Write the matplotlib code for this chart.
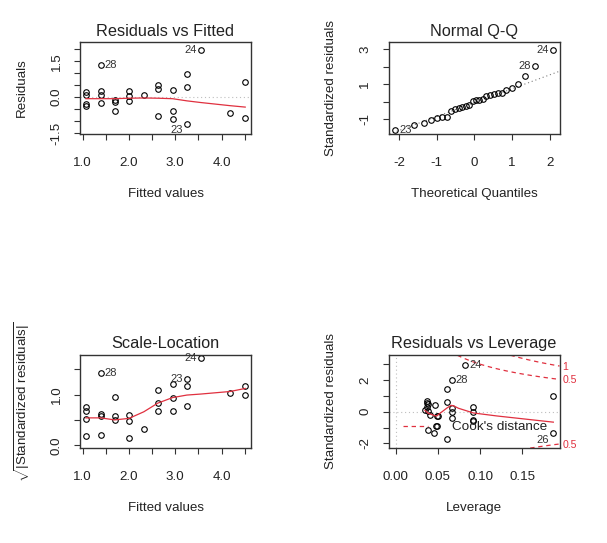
import numpy as np
import matplotlib
matplotlib.use('Agg')
import matplotlib.pyplot as plt

plt.rcParams['font.family'] = ['Liberation Sans', 'DejaVu Sans']
plt.rcParams['mathtext.fontset'] = 'custom'
plt.rcParams['mathtext.rm'] = 'Liberation Sans'
plt.rcParams['mathtext.it'] = 'Liberation Sans:italic'

# ---------------- data ----------------
# Panel 1: Residuals vs Fitted
fitted = [1.07, 1.07, 1.07, 1.07, 1.39, 1.39, 1.39, 1.39, 1.69, 1.69, 1.69,
          2.00, 2.00, 2.00, 2.32, 2.62, 2.62, 2.62, 2.94, 2.94, 2.94,
          3.25, 3.25, 3.25, 3.55, 4.18, 4.51, 4.51]
residuals = [0.22, 0.10, -0.27, -0.35, 1.36, 0.25, 0.11, -0.23, -0.13, -0.18, -0.57,
             0.28, 0.04, -0.14, 0.08, 0.53, 0.35, -0.77, 0.29, -0.57, -0.92,
             0.97, 0.43, -1.11, 1.96, -0.67, 0.65, -0.85]
smooth_x = [1.07, 1.39, 1.69, 2.00, 2.32, 2.62, 2.94, 3.25, 3.55, 4.18, 4.51]
smooth_resid = [-0.06, -0.06, -0.06, -0.04, -0.03, -0.04, -0.06, -0.15, -0.22, -0.35, -0.41]
resid_labels = {'28': (1.39, 1.36), '24': (3.55, 1.96), '23': (3.25, -1.11)}

# Panel 2: Normal Q-Q
theor_q = [-2.100, -1.611, -1.345, -1.150, -0.992, -0.854, -0.732, -0.619, -0.514, -0.414,
           -0.319, -0.225, -0.135, -0.045, 0.045, 0.135, 0.225, 0.319, 0.414, 0.514,
           0.619, 0.732, 0.854, 0.992, 1.150, 1.345, 1.611, 2.100]
std_resid_sorted = [-1.62, -1.31, -1.23, -1.05, -0.93, -0.86, -0.85, -0.51, -0.44, -0.36,
                    -0.30, -0.25, -0.18, 0.05, 0.07, 0.10, 0.15, 0.33, 0.36, 0.43,
                    0.47, 0.50, 0.64, 0.77, 1.01, 1.45, 2.04, 2.93]
qq_labels = {'24': (2.100, 2.93), '28': (1.611, 2.04), '23': (-2.100, -1.62)}

# Panel 3: Scale-Location
sqrt_abs_std = [0.76, 0.68, 0.52, 0.18, 1.42, 0.62, 0.57, 0.20, 0.95, 0.57, 0.49,
                0.60, 0.47, 0.14, 0.32, 1.09, 0.84, 0.68, 1.20, 0.94, 0.68,
                1.31, 1.17, 0.78, 1.72, 1.03, 1.17, 0.99]
smooth_scale = [0.54, 0.54, 0.50, 0.53, 0.66, 0.83, 0.94, 0.99, 1.01, 1.06, 1.12]
scale_labels = {'28': (1.39, 1.42), '24': (3.55, 1.72), '23': (3.25, 1.31)}

# Panel 4: Residuals vs Leverage
leverage = [0.0821, 0.0663, 0.0604, 0.0604, 0.0604, 0.0374, 0.0386, 0.0367, 0.0466, 0.0386,
            0.0406, 0.0486, 0.0500, 0.0663, 0.0663, 0.0663, 0.0474, 0.0490, 0.0379, 0.0457,
            0.0920, 0.0920, 0.0920, 0.0920, 0.1867, 0.1867, 0.0347, 0.0367]
std_resid = [2.95, 2.00, 1.41, 0.63, -1.74, 0.69, 0.49, 0.32, 0.42, 0.02,
             -0.21, -0.25, -0.30, 0.25, -0.05, -0.42, -0.90, -0.90, -1.16, -1.37,
             0.32, 0.00, -0.52, -0.56, 1.01, -1.37, 0.11, 0.55]
smooth_lev = [0.0347, 0.0386, 0.0458, 0.0486, 0.0525, 0.0604, 0.0655, 0.0683, 0.0742, 0.0920, 0.1200, 0.1867]
smooth_lev_y = [0.08, -0.10, -0.24, -0.27, -0.10, 0.22, 0.40, 0.38, 0.22, -0.08, -0.27, -0.66]
lev_labels = {'24': (0.0821, 2.95), '28': (0.0663, 2.00), '26': (0.1867, -1.37)}
cook_levels = [0.5, 1.0]
cook_level_text = ['0.5', '1']
n_coef = 2

# ---------------- style ----------------
RED = '#E0303F'
GRAY = '#BEBEBE'
INK = '#222222'
W, H = 607, 543
fig = plt.figure(figsize=(W / 100, H / 100), dpi=100)


def make_ax(l, r, t, b):
    ax = fig.add_axes([l / W, 1 - b / H, (r - l) / W, (b - t) / H])
    return ax


def style(ax, hpx, wpx, xticks, xlabs, yticks, ylabs, xlabel, ylabel, title):
    ax.set_xticks(xticks)
    ax.set_xticklabels(xlabs)
    ax.set_yticks(yticks)
    ax.set_yticklabels(ylabs, rotation=90, va='center')
    ax.tick_params(direction='out', length=4.1, width=0.8, labelsize=9.6,
                   color='#333333', labelcolor=INK)
    ax.tick_params(axis='x', pad=12.5)
    ax.tick_params(axis='y', pad=8.5)
    ax.set_xlabel(xlabel, fontsize=9.6, color=INK)
    ax.xaxis.label.set_va('center')
    ax.xaxis.set_label_coords(0.5, -60.0 / hpx)
    ax.set_ylabel(ylabel, fontsize=9.6, color=INK)
    ax.yaxis.label.set_va('center')
    ax.yaxis.set_label_coords(-58.0 / wpx, 0.5)
    ax.set_title(title, fontsize=11.7, pad=4.5, color=INK)
    for s in ax.spines.values():
        s.set_linewidth(1.0)
        s.set_color('#333333')


def pts(ax, x, y):
    ax.plot(x, y, linestyle='none', marker='o', markersize=4.0,
            markerfacecolor='none', markeredgecolor='black', markeredgewidth=0.8)


def lab(ax, txt, xy, side, dy=0):
    dx = 3.0 if side == 'r' else -3.0
    ax.annotate(txt, xy=xy, xytext=(dx, dy), textcoords='offset points',
                ha='left' if side == 'r' else 'right', va='center',
                fontsize=8.0, color='#333333', annotation_clip=False)


# ---- Panel 1 ----
ax1 = make_ax(80, 251, 42, 134)
ax1.axhline(0, color=GRAY, lw=0.8, ls=(0, (1, 2.5)))
pts(ax1, fitted, residuals)
ax1.plot(smooth_x, smooth_resid, color=RED, lw=0.9)
lab(ax1, '28', resid_labels['28'], 'r')
lab(ax1, '24', resid_labels['24'], 'l')
lab(ax1, '23', resid_labels['23'], 'l', dy=-4.5)
style(ax1, 92, 171, [1.0, 1.5, 2.0, 2.5, 3.0, 3.5, 4.0, 4.5],
      ['1.0', '', '2.0', '', '3.0', '', '4.0', ''],
      [-1.5, -1.0, -0.5, 0.0, 0.5, 1.0, 1.5, 2.0],
      ['-1.5', '', '', '0.0', '', '', '1.5', ''],
      'Fitted values', 'Residuals', 'Residuals vs Fitted')
ax1.set_xlim(0.942, 4.635)
ax1.set_ylim(-1.53, 2.30)

# ---- Panel 2 ----
ax2 = make_ax(388.5, 559.5, 42, 134)
q1, q3 = np.quantile(std_resid_sorted, [0.25, 0.75])
zq = 0.6745
slope = (q3 - q1) / (2 * zq)
icpt = q1 + slope * zq
ax2.axline((0.0, icpt), slope=slope, color='#7F7F7F', lw=0.8, ls=(0, (1, 2.5)))
pts(ax2, theor_q, std_resid_sorted)
lab(ax2, '24', qq_labels['24'], 'l')
lab(ax2, '28', qq_labels['28'], 'l')
lab(ax2, '23', qq_labels['23'], 'r')
style(ax2, 92, 171, [-2, -1, 0, 1, 2], ['-2', '-1', '0', '1', '2'],
      [-1, 0, 1, 2, 3], ['-1', '', '1', '', '3'],
      'Theoretical Quantiles', 'Standardized residuals', 'Normal Q-Q')
ax2.set_xlim(-2.276, 2.26)
ax2.set_ylim(-1.85, 3.41)

# ---- Panel 3 ----
ax3 = make_ax(80, 251, 354.5, 448.3)
pts(ax3, fitted, sqrt_abs_std)
ax3.plot(smooth_x, smooth_scale, color=RED, lw=0.9)
lab(ax3, '28', scale_labels['28'], 'r')
lab(ax3, '24', scale_labels['24'], 'l')
lab(ax3, '23', scale_labels['23'], 'l')
style(ax3, 93.8, 171, [1.0, 1.5, 2.0, 2.5, 3.0, 3.5, 4.0, 4.5],
      ['1.0', '', '2.0', '', '3.0', '', '4.0', ''],
      [0.0, 0.5, 1.0, 1.5], ['0.0', '', '1.0', ''],
      'Fitted values', r'$\sqrt{|\mathrm{Standardized\ residuals}|}$', 'Scale-Location')
ax3.set_xlim(0.942, 4.635)
ax3.set_ylim(-0.06, 1.79)

# ---- Panel 4 ----
ax4 = make_ax(388.5, 559.5, 354.5, 448.3)
xlim4 = (-0.0085, 0.194)
ylim4 = (-2.31, 3.61)
ax4.axhline(0, color=GRAY, lw=0.8, ls=(0, (1, 2.5)))
ax4.axvline(0, color=GRAY, lw=0.8, ls=(0, (1, 2.5)))
pts(ax4, leverage, std_resid)
ax4.plot(smooth_lev, smooth_lev_y, color=RED, lw=0.9)
hh = np.linspace(0.002, xlim4[1], 101)
cook_handle = None
for crit in cook_levels:
    cl = np.sqrt(crit * n_coef * (1 - hh) / hh)
    h, = ax4.plot(hh, cl, color=RED, lw=0.9, ls=(0, (3.5, 3)))
    ax4.plot(hh, -cl, color=RED, lw=0.9, ls=(0, (3.5, 3)))
    if cook_handle is None:
        cook_handle = h
lab(ax4, '24', lev_labels['24'], 'r')
lab(ax4, '28', lev_labels['28'], 'r')
lab(ax4, '26', lev_labels['26'], 'l', dy=-4.5)
style(ax4, 93.8, 171, [0.0, 0.05, 0.10, 0.15], ['0.00', '0.05', '0.10', '0.15'],
      [-2, -1, 0, 1, 2, 3], ['-2', '', '0', '', '2', ''],
      'Leverage', 'Standardized residuals', 'Residuals vs Leverage')
ax4.set_xlim(*xlim4)
ax4.set_ylim(*ylim4)
leg = ax4.legend([cook_handle], ["Cook's distance"], loc='center left',
                 bbox_to_anchor=(0.086, 0.227), frameon=False, fontsize=9.7,
                 handlelength=1.84, handletextpad=1.77, borderpad=0, borderaxespad=0)
for t in leg.get_texts():
    t.set_color(INK)

# right-hand Cook's distance labels (only those inside the plot range)
xmax = xlim4[1]
ymult = np.sqrt(n_coef * (1 - xmax) / xmax)
aty = [np.sqrt(c) * ymult for c in cook_levels]
tick_pos = [-a for a in aty[::-1]] + aty
tick_txt = cook_level_text[::-1] + cook_level_text
keep = [(p, t) for p, t in zip(tick_pos, tick_txt) if ylim4[0] <= p <= ylim4[1]]
axr = ax4.twinx()
axr.set_yticks([p for p, _ in keep])
axr.set_yticklabels([t for _, t in keep])
axr.set_ylim(*ylim4)
axr.tick_params(axis='y', length=0, pad=2, labelsize=7.6, labelcolor=RED)
for s in axr.spines.values():
    s.set_visible(False)

fig.savefig('out.png', dpi=100)
